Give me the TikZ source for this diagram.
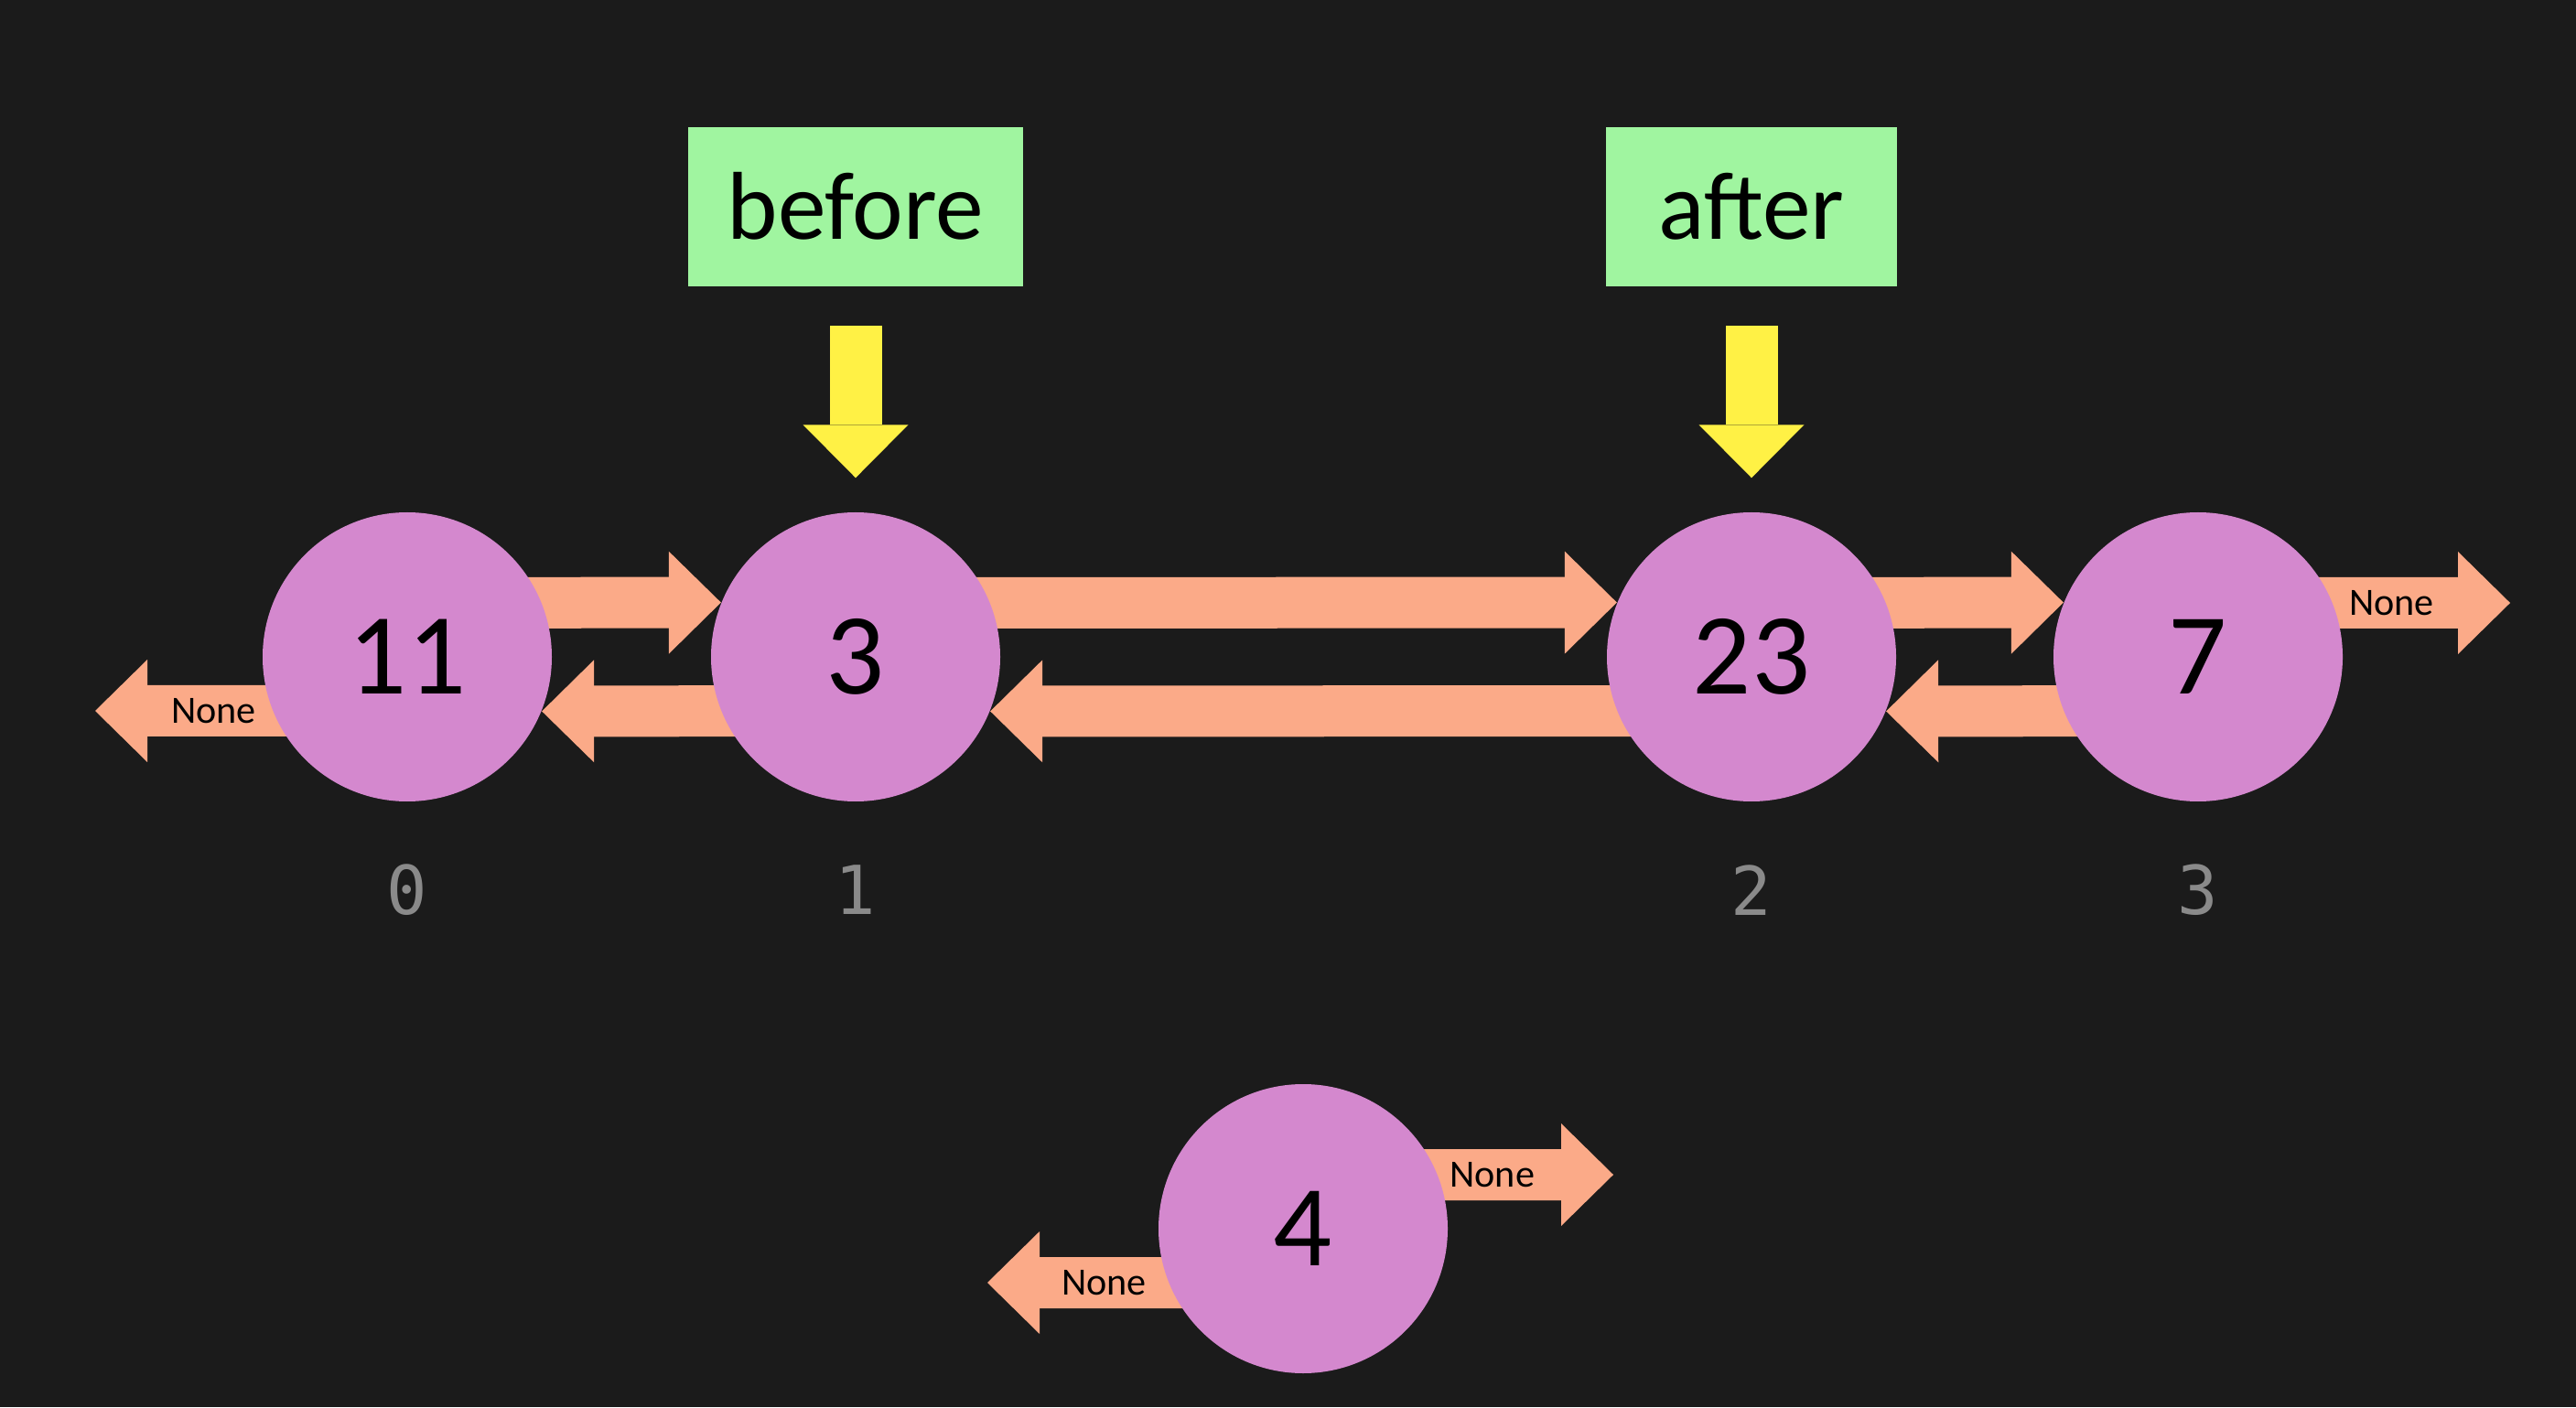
\documentclass[tikz,border=0pt]{standalone}
\usepackage{fontspec}
\setmainfont{Carlito}
\newfontfamily\idxmono{DejaVu Sans Mono}
\usepackage{xcolor}
\usetikzlibrary{arrows.meta,positioning}

\definecolor{bgdark}{HTML}{1B1B1B}
\definecolor{nodepink}{HTML}{D488CE}
\definecolor{linksalmon}{HTML}{FBAA88}
\definecolor{labelgreen}{HTML}{A0F5A0}
\definecolor{pointeryellow}{HTML}{FFF145}
\definecolor{idxgray}{HTML}{8A8A8A}

\pgfdeclarelayer{back}
\pgfsetlayers{back,main}

\begin{document}
\begin{tikzpicture}[
  elem/.style={circle, fill=nodepink, minimum size=3.16cm, inner sep=0pt, font=\fontsize{36}{40}\selectfont},
  idx/.style={text=idxgray, font=\idxmono\fontsize{21}{24}\selectfont},
  tag/.style={fill=labelgreen, minimum height=1.74cm, inner sep=0pt, font=\fontsize{30}{34}\selectfont},
  link/.style={linksalmon, line width=0.56cm, -{Triangle[width=1.12cm,length=0.57cm,line width=0pt]}},
  ptr/.style={pointeryellow, line width=0.57cm, -{Triangle[width=1.15cm,length=0.58cm,line width=0pt]}},
  nonetext/.style={text=black, font=\fontsize{12}{14}\selectfont}
]
\useasboundingbox (0,0) rectangle (28.15,15.38);

% list elements
\node[elem] (e0) at (4.45,8.20) {11};
\node[elem] (e1) at (9.35,8.20) {3};
\node[elem] (e2) at (19.14,8.20) {23};
\node[elem] (e3) at (24.02,8.20) {7};
\node[elem] (new) at (14.24,1.95) {4};

% indices
\foreach \i in {0,...,3}
  \node[idx] (i\i) at ([yshift=-2.55cm]e\i) {\i};

% pointers
\node[tag, minimum width=3.66cm, above=2.46cm of e1] (before) {before};
\node[tag, minimum width=3.18cm, above=2.46cm of e2] (after) {after};
\draw[ptr] ([yshift=-0.43cm]before.south) -- ([yshift=0.37cm]e1.north);
\draw[ptr] ([yshift=-0.43cm]after.south) -- ([yshift=0.37cm]e2.north);

\begin{pgfonlayer}{back}
\fill[bgdark] (0,0) rectangle (28.15,15.38);

% next / prev links
\foreach \a/\b in {e0/e1, e1/e2, e2/e3} {
  \draw[link] ([yshift=0.59cm]\a.center) -- (\b.158);
  \draw[link] ([yshift=-0.59cm]\b.center) -- (\a.-22);
}

% None ends
\coordinate (nl) at ([shift={(-3.41,-0.59)}]e0);
\coordinate (nr) at ([shift={(3.41,0.59)}]e3);
\coordinate (newl) at ([shift={(-3.45,-0.59)}]new);
\coordinate (newr) at ([shift={(3.39,0.59)}]new);
\draw[link] ([yshift=-0.59cm]e0.center) -- node[nonetext, pos=0.62] {None} (nl);
\draw[link] ([yshift=0.59cm]e3.center) -- node[nonetext, pos=0.62] {None} (nr);
\draw[link] ([yshift=-0.59cm]new.center) -- node[nonetext, pos=0.63] {None} (newl);
\draw[link] ([yshift=0.59cm]new.center) -- node[nonetext, pos=0.61] {None} (newr);
\end{pgfonlayer}
\end{tikzpicture}
\end{document}
